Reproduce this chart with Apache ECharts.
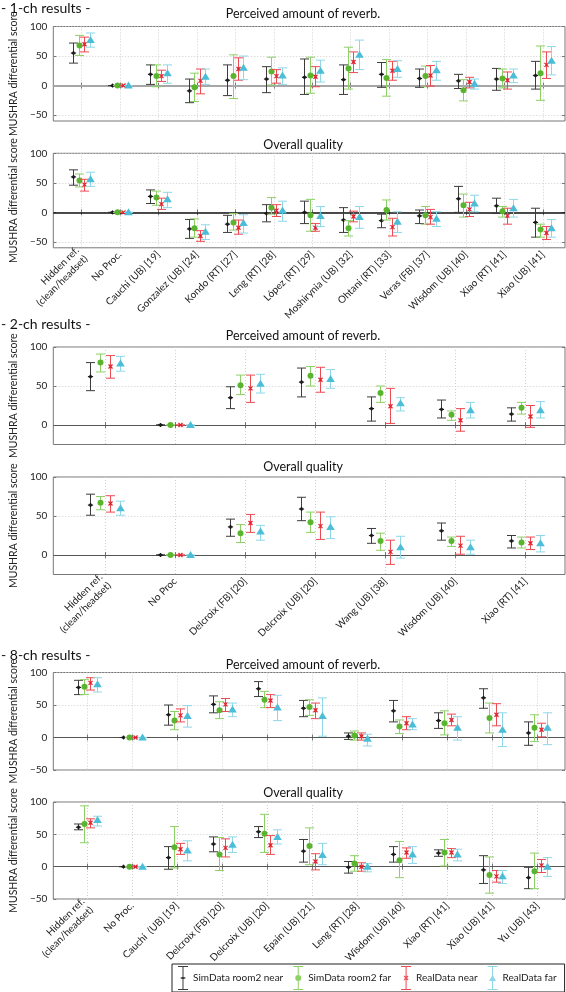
<!DOCTYPE html>
<html><head><meta charset="utf-8">
<script src="https://cdn.jsdelivr.net/npm/echarts@6/dist/echarts.min.js"></script>
<style>html,body{margin:0;padding:0;background:#fff}#c{width:566px;height:992px}</style>
</head><body><div id="c"></div><script>
// ---------- categories ----------
const cats1 = ['Hidden ref.\n(clean/headset)', 'No Proc.', 'Cauchi (UB) [19]', 'Gonzalez (UB) [24]', 'Kondo (RT) [27]', 'Leng (RT) [28]', 'López (RT) [29]', 'Moshirynia (UB) [32]', 'Ohtani (RT) [33]', 'Veras (FB) [37]', 'Wisdom (UB) [40]', 'Xiao (RT) [41]', 'Xiao (UB) [41]'];
const cats2 = ['Hidden ref.\n(clean/headset)', 'No Proc', 'Delcroix (FB) [20]', 'Delcroix (UB) [20]', 'Wang (UB) [38]', 'Wisdom (UB) [40]', 'Xiao (RT) [41]'];
const cats8 = ['Hidden ref.\n(clean/headset)', 'No Proc.', 'Cauchi  (UB) [19]', 'Delcroix (FB) [20]', 'Delcroix (UB) [20]', 'Epain (UB) [21]', 'Leng (RT) [28]', 'Wisdom (UB) [40]', 'Xiao (RT) [41]', 'Xiao (UB) [41]', 'Yu (UB) [43]'];
const seriesNames = ['SimData room2 near', 'SimData room2 far', 'RealData near', 'RealData far'];
const yTicks = [-50, 0, 50, 100];

// ---------- values: [mean, lower, upper] ----------
// 1-ch, perceived amount of reverb
const ch1RevSimNear  = [[55,38,72],[0,0,0],[19,2,35],[-9,-29,11],[9,-17,35],[11,-12,32],[14,-15,45],[10,-15,35],[19,-3,39],[12,-3,28],[8,-5,19],[11,-8,29],[17,-6,41]];
const ch1RevSimFar   = [[68,51,85],[0,0,0],[16,-2,35],[-3,-27,21],[16,-22,52],[24,1,48],[17,-13,48],[29,-6,65],[13,-18,44],[16,-2,33],[-8,-26,10],[12,-4,28],[21,-25,67]];
const ch1RevRealNear = [[70,57,82],[0,0,0],[16,7,26],[8,-14,28],[28,9,47],[16,4,27],[15,-2,32],[40,22,57],[25,9,41],[17,-1,34],[6,-4,14],[9,-6,23],[35,12,57]];
const ch1RevRealFar  = [[77,65,89],[0,0,0],[21,4,35],[15,2,28],[30,10,50],[17,2,30],[25,6,43],[52,27,77],[28,14,42],[26,9,41],[3,-6,11],[17,5,28],[42,18,66]];
// 1-ch, overall quality
const ch1QuaSimNear  = [[60,46,72],[0,0,0],[27,15,38],[-28,-44,-12],[-20,-34,-5],[-2,-16,13],[0,-19,19],[-13,-34,8],[-14,-26,-3],[-6,-19,4],[23,0,44],[11,-2,24],[-17,-42,7]];
const ch1QuaSimFar   = [[54,43,65],[0,0,0],[25,12,36],[-27,-42,-11],[-17,-30,-2],[8,-3,25],[-5,-32,22],[-27,-40,-14],[4,-13,21],[-5,-20,10],[12,-8,31],[2,-8,10],[-29,-42,-20]];
const ch1QuaRealNear = [[47,36,56],[0,0,0],[14,5,24],[-40,-49,-31],[-26,-37,-13],[3,-7,13],[-26,-32,-19],[-7,-16,2],[-25,-40,-10],[-8,-20,5],[5,-7,17],[-6,-20,7],[-35,-46,-24]];
const ch1QuaRealFar  = [[56,44,68],[0,0,0],[22,8,34],[-33,-46,-21],[-18,-35,-4],[3,-15,19],[-6,-24,10],[-8,-27,10],[-16,-34,1],[-11,-24,1],[15,1,29],[7,-8,22],[-27,-42,-12]];
// 2-ch, perceived amount of reverb
const ch2RevSimNear  = [[62,44,80],[0,0,0],[35,21,49],[55,36,73],[21,5,36],[20,9,32],[14,5,22]];
const ch2RevSimFar   = [[80,68,91],[0,0,0],[51,39,64],[63,50,75],[41,29,50],[13,6,18],[22,14,29]];
const ch2RevRealNear = [[75,60,89],[0,0,0],[47,29,64],[58,42,74],[24,2,47],[6,-8,21],[11,-3,25]];
const ch2RevRealFar  = [[79,69,88],[0,0,0],[53,41,65],[59,47,71],[28,18,35],[19,9,29],[19,9,30]];
// 2-ch, overall quality
const ch2QuaSimNear  = [[64,51,78],[0,0,0],[36,24,46],[59,44,74],[25,15,34],[31,19,41],[18,9,25]];
const ch2QuaSimFar   = [[67,58,75],[0,0,0],[28,16,39],[42,29,55],[18,6,28],[18,11,23],[16,9,23]];
const ch2QuaRealNear = [[66,55,76],[0,0,0],[41,29,52],[37,20,55],[4,-12,19],[12,1,24],[15,7,23]];
const ch2QuaRealFar  = [[60,51,69],[0,0,0],[30,19,38],[36,21,49],[10,-4,24],[10,1,19],[15,4,25]];
// 8-ch, perceived amount of reverb
const ch8RevSimNear  = [[77,66,88],[0,0,0],[35,19,50],[51,38,64],[75,63,86],[45,32,57],[2,-3,7],[41,24,57],[26,14,38],[61,45,75],[7,-12,24]];
const ch8RevSimFar   = [[78,66,89],[0,0,0],[26,12,40],[42,29,55],[58,46,71],[47,34,58],[3,-4,10],[17,6,27],[22,4,41],[30,7,53],[15,-6,35]];
const ch8RevRealNear = [[84,73,92],[0,0,0],[34,24,44],[51,40,60],[57,46,66],[42,29,53],[2,-4,7],[22,12,32],[27,18,36],[35,18,52],[12,1,22]];
const ch8RevRealFar  = [[82,70,92],[0,0,0],[33,16,49],[43,32,53],[46,26,65],[33,2,61],[-2,-13,5],[20,12,29],[15,-4,32],[12,-14,38],[15,-11,38]];
// 8-ch, overall quality
const ch8QuaSimNear  = [[61,57,66],[0,0,0],[14,-4,31],[35,23,46],[54,45,62],[24,7,42],[-1,-10,8],[19,7,31],[21,16,26],[-5,-26,17],[-17,-34,-1]];
const ch8QuaSimFar   = [[66,37,94],[0,0,0],[30,-2,62],[19,-6,45],[51,22,81],[32,3,60],[5,-7,17],[10,-17,39],[22,1,42],[-13,-41,15],[-7,-34,21]];
const ch8QuaRealNear = [[68,60,74],[0,0,0],[27,19,36],[29,15,43],[33,19,48],[8,-5,20],[0,-7,6],[22,13,29],[22,14,28],[-15,-24,-6],[2,-9,11]];
const ch8QuaRealFar  = [[72,63,78],[0,0,0],[25,9,40],[34,22,46],[46,35,57],[18,3,36],[0,-8,5],[19,5,31],[19,9,27],[-15,-26,-6],[0,-15,14]];

// ---------- layout / style ----------
const FONT = 'Lato, "Open Sans", sans-serif';
const offsets = [-0.21, -0.07, 0.07, 0.21];
const styles = [
  {bar: '#3c3c3c', marker: '#1a1a1a', type: 'star'},
  {bar: '#8dd066', marker: '#5ab52e', type: 'circle'},
  {bar: '#ee4a52', marker: '#de1f2a', type: 'x'},
  {bar: '#8ed7e8', marker: '#4cbdd6', type: 'tri'}
];
const panels = [
  {cats: cats1, sets: [ch1RevSimNear, ch1RevSimFar, ch1RevRealNear, ch1RevRealFar], xMin: 0.265, xMax: 13.575, yMin: -60, yMax: 100, top: 26.5, height: 94.5, labels: false, zero: {color: '#a6a6a6', width: 2}},
  {cats: cats1, sets: [ch1QuaSimNear, ch1QuaSimFar, ch1QuaRealNear, ch1QuaRealFar], xMin: 0.265, xMax: 13.575, yMin: -60, yMax: 100, top: 153.3, height: 94.5, labels: true, zero: {color: '#111', width: 1.5}},
  {cats: cats2, sets: [ch2RevSimNear, ch2RevSimFar, ch2RevRealNear, ch2RevRealFar], xMin: 0.262, xMax: 7.563, yMin: -25, yMax: 100, top: 347, height: 97.5, labels: false, zero: {color: '#555', width: 1}},
  {cats: cats2, sets: [ch2QuaSimNear, ch2QuaSimFar, ch2QuaRealNear, ch2QuaRealFar], xMin: 0.262, xMax: 7.563, yMin: -25, yMax: 100, top: 477, height: 97.5, labels: true, zero: {color: '#555', width: 1}},
  {cats: cats8, sets: [ch8RevSimNear, ch8RevSimFar, ch8RevRealNear, ch8RevRealFar], xMin: 0.25, xMax: 11.61, yMin: -50, yMax: 100, top: 672.5, height: 97.5, labels: false, zero: {color: '#555', width: 1}},
  {cats: cats8, sets: [ch8QuaSimNear, ch8QuaSimFar, ch8QuaRealNear, ch8QuaRealFar], xMin: 0.25, xMax: 11.61, yMin: -50, yMax: 100, top: 802, height: 97, labels: true, zero: {color: '#555', width: 1}}
];
const texts = [
  {t: '- 1-ch results -', x: 1, y: 8, size: 14, align: 'left'},
  {t: '- 2-ch results -', x: 1, y: 324, size: 14, align: 'left'},
  {t: '- 8-ch results -', x: 1, y: 655, size: 14, align: 'left'},
  {t: 'Perceived amount of reverb.', x: 303, y: 14, size: 12.5, align: 'center'},
  {t: 'Overall quality', x: 303, y: 145, size: 12.5, align: 'center'},
  {t: 'Perceived amount of reverb.', x: 303, y: 336, size: 12.5, align: 'center'},
  {t: 'Overall quality', x: 303, y: 467, size: 12.5, align: 'center'},
  {t: 'Perceived amount of reverb.', x: 303, y: 665, size: 12.5, align: 'center'},
  {t: 'Overall quality', x: 303, y: 793, size: 12.5, align: 'center'}
];
const caps = 'M0 0H10V1H0Z M0 23H10V24H0Z M4.5 1H5.5V23H4.5Z ';
const icons = [
  'path://' + caps + 'M2.5 11.5H7.5V12.5H2.5Z M3.5 11H6.5V13H3.5Z',
  'path://' + caps + 'M2 12A3 3 0 1 1 8 12A3 3 0 1 1 2 12Z',
  'path://' + caps + 'M2.6 10.4L3.4 9.6L7.4 13.6L6.6 14.4Z M6.6 9.6L7.4 10.4L3.4 14.4L2.6 13.6Z',
  'path://' + caps + 'M5 9L8.5 15H1.5Z'
];

function fmtY(v) { return v < 0 ? '\u2212' + Math.abs(v) : String(v); }

function makeRender(st) {
  return function (params, api) {
    const x = api.value(0), m = api.value(1), lo = api.value(2), hi = api.value(3);
    const pm = api.coord([x, m]), pl = api.coord([x, lo]), ph = api.coord([x, hi]);
    const cx = Math.round(pm[0]) + 0.5, cy = pm[1];
    const hw = 4.5;
    const ls = {stroke: st.bar, lineWidth: 1};
    const ch = [
      {type: 'line', shape: {x1: cx, y1: pl[1], x2: cx, y2: ph[1]}, style: ls},
      {type: 'line', shape: {x1: cx - hw, y1: pl[1], x2: cx + hw, y2: pl[1]}, style: ls},
      {type: 'line', shape: {x1: cx - hw, y1: ph[1], x2: cx + hw, y2: ph[1]}, style: ls}
    ];
    if (st.type === 'star') {
      const ms = {stroke: st.marker, lineWidth: 1.2};
      ch.push({type: 'line', shape: {x1: cx - 2.6, y1: cy, x2: cx + 2.6, y2: cy}, style: ms});
      ch.push({type: 'line', shape: {x1: cx, y1: cy - 2, x2: cx, y2: cy + 2}, style: ms});
      ch.push({type: 'rect', shape: {x: cx - 1.3, y: cy - 1.3, width: 2.6, height: 2.6}, style: {fill: st.marker}});
    } else if (st.type === 'circle') {
      ch.push({type: 'circle', shape: {cx: cx, cy: cy, r: 3}, style: {fill: st.marker}});
    } else if (st.type === 'x') {
      const ms = {stroke: st.marker, lineWidth: 1.3};
      ch.push({type: 'line', shape: {x1: cx - 2, y1: cy - 2, x2: cx + 2, y2: cy + 2}, style: ms});
      ch.push({type: 'line', shape: {x1: cx + 2, y1: cy - 2, x2: cx - 2, y2: cy + 2}, style: ms});
    } else {
      ch.push({type: 'polygon', shape: {points: [[cx, cy - 4], [cx + 4.3, cy + 3], [cx - 4.3, cy + 3]]}, style: {fill: st.marker}});
    }
    return {type: 'group', children: ch};
  };
}

const grids = [], xAxes = [], yAxes = [], series = [];
const axisGrey = '#777';
const gridLine = {show: true, lineStyle: {color: '#cfcfcf', type: [1, 2], width: 1}};
panels.forEach(function (p, i) {
  grids.push({left: 40, right: 1, top: p.top, height: p.height, show: true, borderColor: axisGrey, borderWidth: 1});
  const ticks = p.cats.map(function (c, j) { return j + 1; });
  xAxes.push({type: 'value', gridIndex: i, min: p.xMin, max: p.xMax, position: 'bottom',
    axisLine: {show: false},
    axisTick: {show: true, inside: true, length: 3, customValues: ticks, lineStyle: {color: axisGrey}},
    axisLabel: {show: p.labels, customValues: ticks, rotate: 45, margin: 5, fontSize: 10, color: '#222', fontFamily: FONT, lineHeight: 12,
      formatter: function (v) { return p.cats[Math.round(v) - 1] || ''; }},
    splitLine: gridLine});
  xAxes.push({type: 'value', gridIndex: i, min: p.xMin, max: p.xMax, position: 'top',
    axisLine: {show: false},
    axisTick: {show: true, inside: true, length: 3, customValues: ticks, lineStyle: {color: axisGrey}},
    axisLabel: {show: false}, splitLine: {show: false}});
  yAxes.push({type: 'value', gridIndex: i, min: p.yMin, max: p.yMax, position: 'left',
    axisLine: {show: false},
    axisTick: {show: true, inside: true, length: 3, customValues: yTicks, lineStyle: {color: axisGrey}},
    axisLabel: {customValues: yTicks, formatter: fmtY, fontSize: 10, color: '#222', margin: 6, fontFamily: FONT},
    splitLine: gridLine,
    name: 'MUSHRA differential score', nameLocation: 'middle', nameGap: 24,
    nameTextStyle: {fontSize: 10.5, color: '#222', fontFamily: FONT}});
  yAxes.push({type: 'value', gridIndex: i, min: p.yMin, max: p.yMax, position: 'right',
    axisLine: {show: false},
    axisTick: {show: true, inside: true, length: 3, customValues: yTicks, lineStyle: {color: axisGrey}},
    axisLabel: {show: false}, splitLine: {show: false}});
  p.sets.forEach(function (set, s) {
    const st = styles[s];
    const ser = {
      type: 'custom', name: seriesNames[s], xAxisIndex: 2 * i, yAxisIndex: 2 * i, z: 10,
      itemStyle: {color: st.bar},
      renderItem: makeRender(st),
      encode: {x: 0, y: [1, 2, 3]},
      data: set.map(function (t, j) { return [j + 1 + offsets[s], t[0], t[1], t[2]]; })
    };
    if (s === 0) {
      ser.markLine = {silent: true, symbol: ['none', 'none'], z: 3, label: {show: false},
        lineStyle: {color: p.zero.color, width: p.zero.width, type: 'solid'},
        emphasis: {disabled: true}, data: [{yAxis: 0}]};
    }
    series.push(ser);
  });
});

const chart = echarts.init(document.getElementById('c'));
chart.setOption({
  animation: false,
  backgroundColor: '#fff',
  textStyle: {fontFamily: FONT},
  grid: grids, xAxis: xAxes, yAxis: yAxes, series: series,
  legend: {
    left: 172, top: 964, orient: 'horizontal', selectedMode: false,
    itemWidth: 10, itemHeight: 24, itemGap: 10, padding: [2, 8, 2, 6],
    borderColor: '#222', borderWidth: 1,
    textStyle: {fontSize: 10, color: '#222', fontFamily: FONT},
    data: seriesNames.map(function (n, k) { return {name: n, icon: icons[k]}; })
  },
  graphic: texts.map(function (t) {
    return {type: 'text', x: t.x, y: t.y, silent: true,
      style: {text: t.t, fontSize: t.size, fontFamily: FONT, fill: '#111', align: t.align, verticalAlign: 'middle'}};
  })
});
</script></body></html>
